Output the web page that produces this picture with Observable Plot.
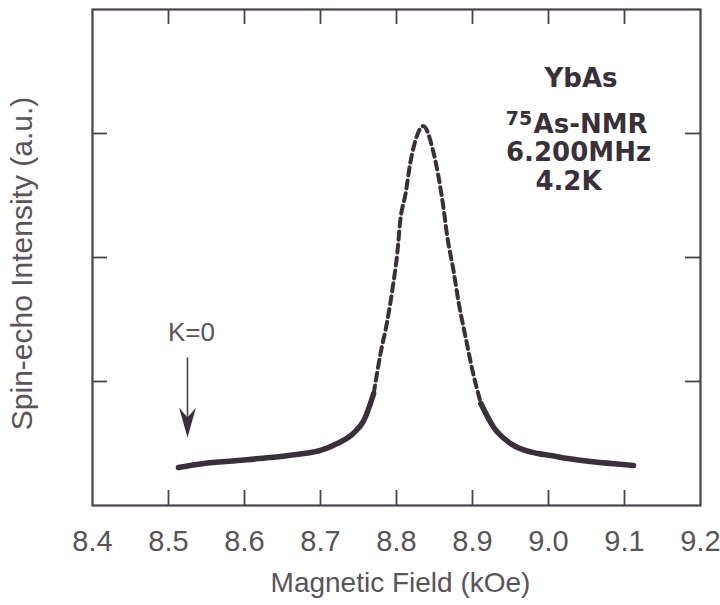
<!DOCTYPE html>
<html>
<head>
<meta charset="utf-8">
<script src="https://cdn.jsdelivr.net/npm/d3@7"></script>
<script src="https://cdn.jsdelivr.net/npm/@observablehq/plot@0.6"></script>
<style>
  html, body { margin: 0; padding: 0; background: #fff; }
  #chart svg { display: block; }
</style>
</head>
<body>
<div id="chart"></div>
<script>
// Magnetic field (kOe) and spin-echo intensity (arbitrary units, frame = 0..4)
const fields = [8.513, 8.546, 8.591, 8.634, 8.678, 8.700, 8.722, 8.743, 8.757, 8.770,
  8.779, 8.788, 8.795, 8.801, 8.805, 8.812, 8.818, 8.825, 8.835, 8.849,
  8.861, 8.867, 8.875, 8.882, 8.891, 8.900, 8.911, 8.928, 8.950, 8.986,
  9.003, 9.025, 9.068, 9.112];
const intensity = [0.306, 0.339, 0.363, 0.387, 0.419, 0.444, 0.500, 0.581, 0.685, 0.903,
  1.226, 1.492, 1.758, 2.032, 2.298, 2.516, 2.758, 2.944, 3.06, 2.839,
  2.435, 2.161, 1.895, 1.629, 1.355, 1.089, 0.823, 0.629, 0.500, 0.419,
  0.403, 0.379, 0.347, 0.323];
const xTicks = [8.4, 8.5, 8.6, 8.7, 8.8, 8.9, 9.0, 9.1, 9.2];
const xInnerTicks = [8.5, 8.6, 8.7, 8.8, 8.9, 9.0, 9.1];
const yInnerTicks = [1, 2, 3];
const xLabel = "Magnetic Field (kOe)";
const yLabel = "Spin-echo Intensity (a.u.)";
const infoLines = ["YbAs", "6.200MHz", "4.2K"];
const infoX = [9.0428, 9.0395, 9.0263];
const infoY = [3.444, 2.847, 2.613];
const nmrLine = "As-NMR";
const superscript = "75";
const markerLabel = "K=0";
const markerField = 8.525;

const data = fields.map((f, i) => ({f, v: intensity[i], side: f <= 8.835 ? "L" : "R"}));
const info = infoLines.map((t, i) => ({t, x: infoX[i], y: infoY[i]}));

const ink = "#3a3039";
const frameInk = "#4a424a";
const labelInk = "#5a535a";
const font = "Liberation Sans, Arial, Helvetica, sans-serif";
const boldFont = "DejaVu Sans, Liberation Sans, sans-serif";
const tickLenY = 15 / 124;
const tickLenX = 15 / 760;

const arrowHead = {
  draw(context) {
    context.moveTo(0, 0);
    context.lineTo(-8.5, -30);
    context.lineTo(0, -20);
    context.lineTo(8.5, -30);
    context.closePath();
  }
};

const chart = Plot.plot({
  width: 720,
  height: 605,
  marginLeft: 92,
  marginRight: 20,
  marginTop: 9,
  marginBottom: 100,
  style: {fontFamily: font, background: "#fff"},
  x: {domain: [8.4, 9.2]},
  y: {domain: [0, 4], axis: null},
  marks: [
    Plot.frame({stroke: frameInk, strokeWidth: 2.2}),
    // inward ticks
    Plot.ruleX(xInnerTicks, {x: d => d, y1: 0, y2: tickLenY, stroke: frameInk, strokeWidth: 1.8}),
    Plot.ruleX(xInnerTicks, {x: d => d, y1: 4 - tickLenY, y2: 4, stroke: frameInk, strokeWidth: 1.8}),
    Plot.ruleY(yInnerTicks, {y: d => d, x1: 8.4, x2: 8.4 + tickLenX, stroke: frameInk, strokeWidth: 1.8}),
    Plot.ruleY(yInnerTicks, {y: d => d, x1: 9.2 - tickLenX, x2: 9.2, stroke: frameInk, strokeWidth: 1.8}),
    Plot.axisX({ticks: xTicks, tickSize: 0, tickPadding: 25, tickFormat: d => d.toFixed(1),
      fontSize: 29, fill: labelInk, label: null}),
    Plot.text([xLabel], {text: d => d, frameAnchor: "bottom", lineAnchor: "top", dy: 67, dx: 4,
      fontSize: 28, fill: labelInk}),
    Plot.text([yLabel], {text: d => d, x: 8.4, y: 1.952, textAnchor: "middle", rotate: -90,
      dx: -70, fontSize: 30, fill: labelInk}),
    // spectrum: flat flanks solid, steep part dashed
    Plot.line(data, {filter: d => d.v <= 0.95, x: "f", y: "v", z: "side", stroke: ink,
      strokeWidth: 5.5, curve: "monotone-x"}),
    Plot.line(data, {filter: d => d.v >= 0.82, x: "f", y: "v", stroke: ink,
      strokeWidth: 4, strokeDasharray: "8,5", curve: "monotone-x"}),
    // K=0 marker
    Plot.ruleX([markerField], {x: d => d, y1: 1.19, y2: 0.62, stroke: "#4a424a", strokeWidth: 1.6}),
    Plot.dot([markerField], {x: d => d, y: 0.548, symbol: arrowHead, fill: "#3a3039", stroke: "none"}),
    Plot.text([markerLabel], {text: d => d, x: markerField, y: 1.39, dx: 4, fontSize: 26, fill: labelInk}),
    // annotation
    Plot.text(info, {x: "x", y: "y", text: "t", fontSize: 26, fontWeight: "bold", fill: ink,
      fontFamily: boldFont, textAnchor: "middle"}),
    Plot.text([nmrLine], {text: d => d, x: 8.9803, y: 3.073, fontSize: 26, fontWeight: "bold", fill: ink,
      fontFamily: boldFont, textAnchor: "start"}),
    Plot.text([superscript], {text: d => d, x: 8.9785, y: 3.12, textAnchor: "end", fontSize: 19,
      fontFamily: boldFont, fontWeight: "bold", fill: ink})
  ]
});
document.getElementById("chart").appendChild(chart);
</script>
</body>
</html>
